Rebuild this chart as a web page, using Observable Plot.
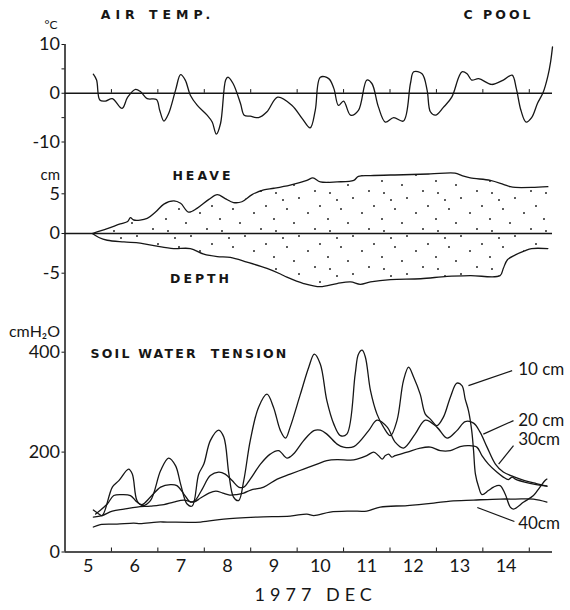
<!DOCTYPE html>
<html><head><meta charset="utf-8">
<script src="https://cdn.jsdelivr.net/npm/d3@7"></script>
<script src="https://cdn.jsdelivr.net/npm/@observablehq/plot@0.6"></script>
<style>
html,body{margin:0;padding:0;background:#fff;}
#chart{width:570px;height:610px;position:relative;background:#fff;}
#chart svg{display:block;overflow:visible;}
</style></head><body><div id="chart"></div>
<script>
// ---------- DATA (days of December 1977, fractional) ----------
const tempDay = [5.61,5.68,5.75,5.87,6.02,6.23,6.35,6.52,6.63,6.77,6.97,7.04,7.13,7.23,7.38,7.49,7.59,7.70,7.85,8.06,8.17,8.26,8.35,8.46,8.51,8.62,8.78,8.86,8.99,9.17,9.35,9.58,9.89,10.11,10.28,10.39,10.50,10.68,10.79,10.89,11.00,11.15,11.32,11.50,11.61,11.75,11.90,12.08,12.29,12.44,12.51,12.69,12.80,12.87,12.98,13.15,13.33,13.48,13.55,13.66,13.76,13.91,14.19,14.44,14.63,14.72,14.82,14.93,15.05,15.18,15.30,15.40,15.46,15.50];
const tempVal = [3.9,2.7,-1.4,-1.6,-1.1,-3.1,-0.8,0.8,0.3,-1.1,-1.3,-3.5,-5.7,-4.2,0.6,3.8,2.7,-0.4,-2.5,-4.5,-5.9,-8.4,-6.2,2.7,3.3,2.0,-2.1,-4.5,-4.7,-5.0,-3.8,-0.8,-2.5,-5.2,-7.1,-3.5,3.3,3.0,1.0,-2.5,-1.6,-4.5,-3.5,2.7,2.0,-2.8,-5.9,-5.0,-5.7,2.0,4.4,4.0,0.6,-3.8,-4.5,-2.9,-0.8,3.3,4.4,4.0,2.7,3.0,1.8,2.7,3.7,1.0,-3.5,-5.9,-5.0,-2.0,0.2,3.5,6.5,9.5];

const heaveDay = [5.59,5.91,6.19,6.35,6.41,6.48,6.77,6.95,7.13,7.34,7.49,7.66,7.85,8.10,8.28,8.45,8.63,8.81,9.03,9.28,9.50,9.85,10.21,10.34,10.50,10.86,11.22,11.32,11.58,12.29,12.87,13.40,13.55,13.73,14.16,14.44,14.59,14.70,15.05,15.40];
const heaveVal = [0,0.6,1.2,1.5,2.0,1.7,1.9,2.7,3.7,4.1,3.8,2.7,3.2,4.3,4.9,4.4,3.9,4.0,4.9,5.5,5.7,6.1,6.7,7.0,6.5,6.5,6.7,7.2,7.3,7.4,7.5,7.6,7.3,7.0,6.7,6.2,5.9,5.8,5.8,5.9];

const depthDay = [5.59,5.73,5.91,6.27,6.62,6.98,7.34,7.70,7.99,8.28,8.56,8.92,9.35,9.64,9.78,10.14,10.50,10.86,11.15,11.36,11.58,12.01,12.66,13.23,13.73,14.37,14.44,14.53,14.70,14.90,15.05,15.40];
const depthVal = [0,-0.5,-0.85,-1.06,-1.2,-1.6,-1.9,-1.9,-2.6,-2.9,-3.0,-3.6,-4.4,-5.1,-5.5,-6.3,-6.7,-6.3,-6.1,-6.4,-6.1,-5.8,-5.7,-5.4,-5.3,-5.3,-4.4,-3.3,-2.7,-2.2,-1.9,-1.9];

const t10Day = [5.61,5.70,5.80,6.02,6.16,6.37,6.45,6.55,6.66,6.84,7.06,7.23,7.38,7.49,7.63,7.74,7.88,7.99,8.13,8.31,8.42,8.53,8.63,8.74,8.85,8.99,9.17,9.35,9.49,9.64,9.75,9.85,10.07,10.25,10.37,10.50,10.64,10.79,10.93,11.07,11.25,11.32,11.40,11.47,11.58,11.72,11.86,12.01,12.15,12.29,12.40,12.51,12.65,12.76,12.87,13.01,13.15,13.30,13.44,13.55,13.62,13.69,13.76,13.80,13.84,13.91,13.98,14.12,14.23,14.37,14.48,14.59,14.66,14.88,15.09,15.23,15.34,15.38];
const t10Val = [84,78,73,130,143,166,156,103,93,103,163,188,173,136,96,92,156,176,223,244,230,156,110,103,143,223,290,316,290,243,228,250,316,370,396,376,303,256,233,236,356,396,404,390,323,276,250,233,263,343,370,350,316,276,266,253,270,310,338,333,306,283,243,203,156,130,115,123,130,133,116,90,86,100,113,130,143,146];

const t20Day = [5.66,5.91,6.05,6.23,6.41,6.55,6.66,6.84,7.06,7.27,7.41,7.56,7.70,7.80,7.95,8.13,8.31,8.45,8.60,8.74,8.85,8.99,9.21,9.42,9.60,9.78,9.92,10.14,10.36,10.50,10.64,10.86,11.00,11.22,11.54,11.72,11.94,12.11,12.29,12.54,12.76,13.01,13.23,13.44,13.62,13.80,13.94,14.09,14.27,14.44,14.66,14.90,15.15,15.38];
const t20Val = [76,96,113,115,113,100,95,110,130,135,133,116,100,103,125,153,160,156,143,130,130,146,176,196,203,188,196,223,243,244,236,216,210,211,243,264,250,220,208,236,264,250,228,243,261,258,240,210,176,160,151,143,137,132,127];

const t30Day = [5.61,5.80,6.02,6.27,6.55,6.84,7.13,7.34,7.56,7.77,7.92,8.10,8.25,8.40,8.55,8.70,8.85,9.00,9.28,9.57,9.85,10.14,10.43,10.64,10.86,11.15,11.29,11.50,11.65,11.75,11.83,11.90,11.97,12.04,12.11,12.37,12.65,12.87,13.08,13.30,13.51,13.69,13.87,13.98,14.12,14.30,14.44,14.55,14.63,14.70,14.90,15.15,15.38];
const t30Val = [70,73,82,86,90,92,95,100,104,100,108,118,122,118,114,115,118,124,130,146,156,166,176,183,185,184,186,193,200,193,186,193,196,190,193,200,208,210,203,203,211,213,210,193,176,160,150,145,150,146,140,135,132];

const t40Day = [5.61,5.76,6.12,6.48,6.62,6.98,7.20,7.92,8.42,9.14,9.85,10.21,10.36,10.71,11.15,11.50,11.79,12.37,12.94,13.30,13.80,14.37,14.70,15.09,15.38];
const t40Val = [50,55,56,58,57,60,60,60,66,70,72,76,73,80,82,82,90,93,98,102,104,106,106,106,100];

const dayBounds = [6,7,8,9,10,11,12,13,14,15];
const labelDays = [5.5,6.5,7.5,8.5,9.5,10.5,11.5,12.5,13.5,14.5];
const dayLabels = ["5","6","7","8","9","10","11","12","13","14"];
const seriesLabels = ["10 cm","20 cm","30cm","40cm"];

// ---------- LAYOUT ----------
const W = 570, INK = "#161616";
const X = {domain:[5,15.5], range:[64.5,552], axis:null};
const MARG = {marginLeft:64.5, marginRight:18};
const thin = "Lato, 'Open Sans', sans-serif";
const bold = "'DejaVu Sans', sans-serif";
const zip = (d, v) => d.map((x, i) => ({day: x, v: v[i]}));
const minusFmt = d => d < 0 ? "-" + Math.abs(d) : String(d);
const lineOpt = {x:"day", y:"v", curve:"catmull-rom", stroke:INK, strokeWidth:1.3};
const boldTxt = {fontFamily:bold, fontWeight:"bold", fontSize:12.5, fill:INK};
const st = {fontFamily:thin, background:"transparent", color:INK, overflow:"visible"};

const chart = document.getElementById("chart");

// Panel A: air temperature
const pA = Plot.plot({
  width:W, height:150, marginTop:44, marginBottom:0, ...MARG,
  x:X, y:{domain:[-10,10], range:[141.5,44], axis:null},
  style:st,
  marks:[
    Plot.ruleX([5], {stroke:INK, strokeWidth:1.5}),
    Plot.ruleY([0], {x1:5, x2:15.5, stroke:INK, strokeWidth:1.3}),
    Plot.ruleX(dayBounds, {y1:0, y2:0.75, stroke:INK, strokeWidth:1}),
    Plot.axisY({ticks:[-10,-5,0,5,10], tickSize:3, tickPadding:2, fontSize:18, label:null,
      tickFormat:d => d % 10 === 0 ? minusFmt(d) : ""}),
    Plot.line(zip(tempDay, tempVal), lineOpt),
    Plot.text(["°C"], {x:5, y:10, dx:-14, dy:-19, fontSize:12, fill:INK}),
    Plot.text(["AIR TEMP."], {x:5.77, y:10, dy:-30, textAnchor:"start", ...boldTxt}),
    Plot.text(["C POOL"], {x:15.5, y:10, dx:-19, dy:-30, textAnchor:"end", ...boldTxt})
  ]
});

// Panel B: heave and frost depth
const pB = Plot.plot({
  width:W, height:150, marginTop:0, marginBottom:0, ...MARG,
  x:X, y:{domain:[-5,5], range:[122.7,43.3], axis:null},
  style:st,
  marks:[
    Plot.areaY(zip(heaveDay, heaveVal), {x:"day", y:"v", curve:"catmull-rom", fill:"url(#stip)"}),
    Plot.areaY(zip(depthDay, depthVal), {x:"day", y:"v", curve:"catmull-rom", fill:"url(#stip)"}),
    Plot.ruleX([5], {stroke:INK, strokeWidth:1.5}),
    Plot.ruleY([0], {x1:5, x2:15.5, stroke:INK, strokeWidth:1.3}),
    Plot.axisY({ticks:[-5,0,5], tickSize:3, tickPadding:2, fontSize:18, label:null, tickFormat:minusFmt}),
    Plot.line(zip(heaveDay, heaveVal), lineOpt),
    Plot.line(zip(depthDay, depthVal), lineOpt),
    Plot.text(["cm"], {x:5, y:5, dx:-5, dy:-19, textAnchor:"end", fontSize:15, fill:INK}),
    Plot.text(["HEAVE"], {x:7.97, y:5, dy:-18, ...boldTxt}),
    Plot.text(["DEPTH"], {x:7.93, y:-5, dy:6, ...boldTxt})
  ]
});

// Panel C: soil water tension
const series = [
  {d:t10Day, v:t10Val}, {d:t20Day, v:t20Val}, {d:t30Day, v:t30Val}, {d:t40Day, v:t40Val}
];
const labelPos = [
  {lx:14.76, ly:365, x1:13.69, y1:333, x2:14.63, y2:363},
  {lx:14.76, ly:263, x1:14.01, y1:236, x2:14.66, y2:263},
  {lx:14.76, ly:225, x1:14.34, y1:176, x2:14.66, y2:213},
  {lx:14.76, ly:57,  x1:13.88, y1:89,  x2:14.68, y2:61}
];
const pC = Plot.plot({
  width:W, height:310, marginTop:0, marginBottom:58.5, ...MARG,
  x:X, y:{domain:[0,400], range:[251.5,51.7], axis:null},
  style:st,
  marks:[
    Plot.ruleX([5], {stroke:INK, strokeWidth:1.5}),
    Plot.ruleY([0], {x1:5, x2:15.5, stroke:INK, strokeWidth:1.5}),
    Plot.ruleX(dayBounds, {y1:0, y2:8, stroke:INK, strokeWidth:1}),
    Plot.axisY({ticks:[0,200,400], tickSize:3, tickPadding:2, fontSize:18, label:null}),
    Plot.axisX({ticks:labelDays, tickSize:0, tickPadding:7, fontSize:18, label:null,
      tickFormat:d => dayLabels[labelDays.indexOf(d)]}),
    ...series.map(s => Plot.line(zip(s.d, s.v), lineOpt)),
    Plot.link(labelPos, {x1:"x1", y1:"y1", x2:"x2", y2:"y2", stroke:INK, strokeWidth:1.2}),
    Plot.text(seriesLabels, {x:(d,i) => labelPos[i].lx, y:(d,i) => labelPos[i].ly,
      textAnchor:"start", fontSize:17, fill:INK}),
    Plot.text(["cmH₂O"], {x:5, y:400, dx:-5, dy:-20, textAnchor:"end", fontSize:16, fill:INK}),
    Plot.text(["SOIL WATER  TENSION"], {x:5.55, y:400, dy:2, textAnchor:"start", ...boldTxt}),
    Plot.text(["1977 DEC"], {x:10.4, y:0, dy:43.5, fontSize:18, fill:INK})
  ]
});

// stipple pattern for the frozen-soil area
const defs = d3.select(pB).insert("defs", ":first-child");
const pat = defs.append("pattern").attr("id","stip").attr("patternUnits","userSpaceOnUse")
  .attr("width",54).attr("height",38);
[[6,5],[29,10],[45,3],[17,21],[38,25],[4,31],[50,18],[24,35],[13,12]].forEach(([cx,cy]) =>
  pat.append("circle").attr("cx",cx).attr("cy",cy).attr("r",0.95).attr("fill",INK));

[pA,pB,pC].forEach(svg => {
  chart.appendChild(svg);
  d3.select(svg).selectAll("text").each(function(){
    const t = this.textContent;
    if (t === "AIR TEMP.") d3.select(this).style("letter-spacing","5px").style("white-space","pre");
    if (["C POOL","HEAVE","DEPTH"].includes(t)) {
      d3.select(this).style("letter-spacing","3px").style("white-space","pre");
    }
    if (t === "SOIL WATER  TENSION") d3.select(this).style("letter-spacing","2.2px").style("white-space","pre");
    if (t === "1977 DEC") d3.select(this).style("letter-spacing","5px");
  });
});
</script></body></html>
